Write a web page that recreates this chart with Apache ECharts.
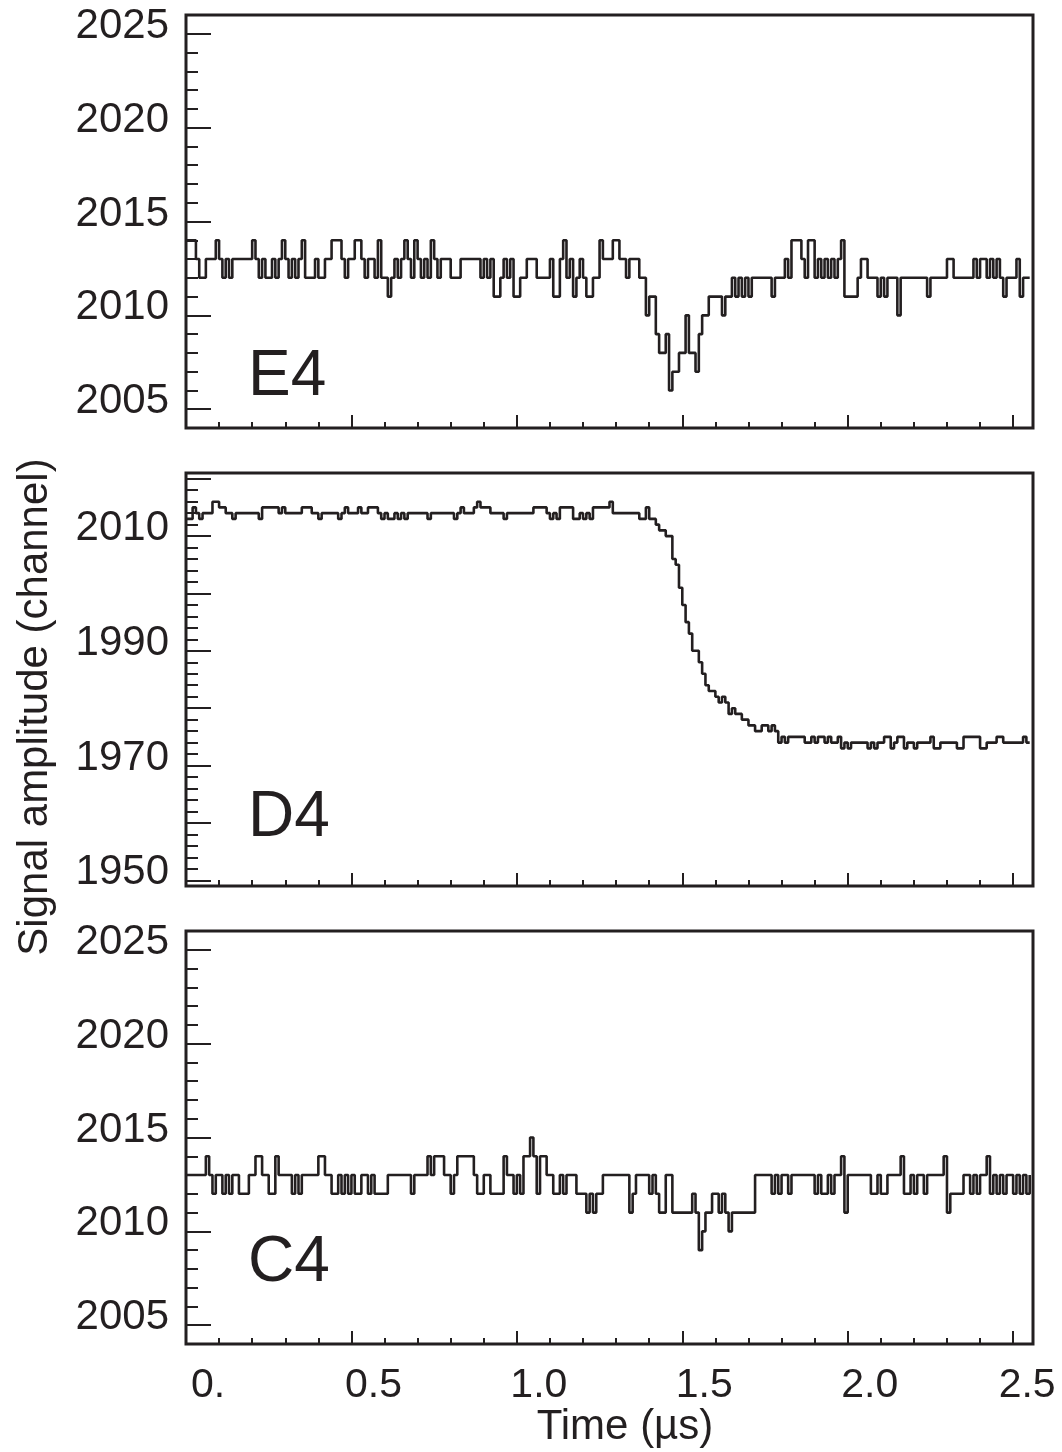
<!DOCTYPE html>
<html>
<head>
<meta charset="utf-8">
<script src="https://cdn.jsdelivr.net/npm/echarts@6/dist/echarts.min.js"></script>
<style>
html,body{margin:0;padding:0;background:#ffffff;}
#chart{width:1062px;height:1452px;}
</style>
</head>
<body>
<div id="chart"></div>
<script>
// ---------- data ----------
const SAMPLE_STEP_US = 0.01;            // 10 ns per ADC sample
const X_MAX_US = 2.56;
const X_TICK_VALUES = [0, 0.5, 1.0, 1.5, 2.0, 2.5];
const X_TICK_LABELS = ['0.', '0.5', '1.0', '1.5', '2.0', '2.5'];

const PANEL_NAMES = ['E4', 'D4', 'C4'];
const Y_LABELS_E4 = [2005, 2010, 2015, 2020, 2025];
const Y_LABELS_D4 = [1950, 1970, 1990, 2010];
const Y_LABELS_C4 = [2005, 2010, 2015, 2020, 2025];

const E4_VALUES = [
2014,2014,2014,2013,2012,2012,2013,2013,2013,2014,2013,2012,2013,2012,2013,2013,
2013,2013,2013,2013,2014,2013,2012,2013,2012,2012,2013,2012,2013,2014,2013,2012,
2013,2012,2013,2014,2012,2012,2012,2013,2012,2012,2013,2013,2014,2014,2014,2013,
2012,2013,2013,2014,2014,2013,2012,2013,2013,2012,2014,2012,2012,2011,2012,2013,
2012,2013,2014,2013,2012,2014,2013,2012,2013,2012,2014,2013,2012,2013,2013,2013,
2012,2012,2012,2013,2013,2013,2013,2013,2013,2012,2013,2012,2013,2011,2011,2012,
2013,2012,2013,2011,2011,2012,2012,2013,2013,2013,2012,2012,2012,2012,2013,2011,
2011,2013,2014,2012,2013,2011,2012,2013,2012,2011,2011,2012,2012,2014,2013,2013,
2013,2014,2014,2013,2013,2012,2013,2013,2013,2012,2012,2010,2011,2011,2009,2008,
2008,2009,2006,2007,2007,2008,2008,2010,2008,2008,2007,2009,2010,2010,2011,2011,
2011,2011,2010,2011,2011,2012,2011,2012,2011,2012,2011,2012,2012,2012,2012,2012,
2012,2011,2012,2012,2012,2013,2012,2014,2014,2014,2013,2012,2014,2014,2012,2013,
2012,2013,2012,2013,2012,2013,2014,2011,2011,2011,2011,2012,2013,2013,2012,2012,
2012,2011,2012,2011,2012,2012,2012,2010,2012,2012,2012,2012,2012,2012,2012,2012,
2011,2012,2012,2012,2012,2012,2013,2013,2012,2012,2012,2012,2012,2012,2013,2012,
2013,2013,2012,2013,2012,2013,2012,2011,2012,2012,2012,2013,2011,2012,2012,2012
];

const D4_VALUES = [
2013,2013,2015,2014,2013,2014,2014,2014,2016,2016,2015,2015,2014,2014,2013,2014,
2014,2014,2014,2014,2014,2014,2013,2015,2015,2015,2015,2015,2014,2015,2014,2014,
2014,2014,2014,2015,2015,2015,2014,2014,2013,2014,2014,2014,2014,2014,2013,2014,
2015,2014,2014,2014,2015,2014,2014,2015,2015,2015,2014,2013,2014,2013,2013,2014,
2013,2014,2013,2014,2014,2014,2014,2014,2014,2013,2014,2014,2014,2014,2014,2014,
2014,2013,2014,2015,2014,2014,2014,2015,2016,2015,2015,2015,2014,2014,2014,2014,
2013,2014,2014,2014,2014,2014,2014,2014,2014,2015,2015,2015,2015,2014,2013,2014,
2013,2015,2015,2015,2015,2013,2013,2014,2013,2014,2013,2015,2015,2015,2015,2015,
2016,2014,2014,2014,2014,2014,2014,2014,2014,2013,2013,2015,2013,2013,2012,2011,
2011,2010,2010,2006,2005,2001,1998,1995,1993,1990,1990,1988,1986,1984,1983,1983,
1982,1981,1982,1981,1979,1980,1979,1979,1978,1978,1977,1977,1976,1976,1977,1977,
1976,1977,1976,1974,1975,1974,1975,1975,1975,1975,1975,1974,1974,1975,1974,1975,
1975,1974,1975,1974,1974,1975,1973,1974,1973,1974,1974,1974,1974,1974,1973,1974,
1973,1974,1974,1975,1975,1973,1974,1975,1975,1973,1974,1974,1973,1974,1974,1974,
1974,1975,1973,1973,1974,1974,1974,1974,1974,1973,1973,1975,1975,1975,1975,1975,
1973,1973,1974,1974,1974,1975,1975,1974,1974,1974,1974,1974,1974,1975,1974,1974
];

const C4_VALUES = [
2013,2013,2013,2013,2013,2013,2014,2013,2012,2013,2013,2012,2013,2012,2013,2013,
2012,2012,2012,2013,2013,2014,2014,2013,2013,2012,2012,2014,2013,2013,2013,2013,
2012,2013,2012,2013,2013,2013,2013,2013,2014,2014,2013,2013,2012,2012,2013,2012,
2013,2012,2013,2012,2012,2013,2013,2012,2013,2012,2012,2012,2012,2013,2013,2013,
2013,2013,2013,2013,2012,2013,2013,2013,2013,2014,2013,2014,2014,2014,2013,2013,
2012,2013,2014,2014,2014,2014,2014,2013,2012,2012,2013,2013,2012,2012,2012,2012,
2014,2013,2013,2012,2013,2012,2014,2014,2015,2014,2012,2014,2014,2013,2013,2012,
2012,2013,2012,2013,2013,2013,2012,2012,2012,2011,2012,2011,2012,2012,2013,2013,
2013,2013,2013,2013,2013,2013,2011,2012,2013,2013,2013,2013,2012,2013,2012,2011,
2011,2013,2013,2011,2011,2011,2011,2011,2011,2012,2011,2009,2010,2011,2011,2012,
2012,2011,2012,2011,2010,2011,2011,2011,2011,2011,2011,2011,2013,2013,2013,2013,
2013,2012,2013,2012,2013,2013,2012,2013,2013,2013,2013,2013,2013,2013,2012,2013,
2012,2012,2013,2012,2013,2013,2014,2011,2013,2013,2013,2013,2013,2013,2013,2012,
2012,2013,2012,2012,2013,2013,2013,2013,2014,2012,2012,2013,2012,2013,2013,2012,
2013,2013,2013,2013,2013,2014,2011,2012,2012,2012,2012,2013,2013,2012,2013,2012,
2013,2013,2014,2012,2013,2012,2013,2012,2013,2013,2012,2013,2012,2013,2012,2013
];

// ---------- layout / style ----------
const INK = '#231f20';
const FONT = '"Liberation Sans", Arial, Helvetica, sans-serif';

const panels = [
  {name: PANEL_NAMES[0], values: E4_VALUES, labels: Y_LABELS_E4, min: 2004, max: 2026, step: 5, top: 15,  nameY: 377},
  {name: PANEL_NAMES[1], values: D4_VALUES, labels: Y_LABELS_D4, min: 1949, max: 2021, step: 10, top: 473, nameY: 818},
  {name: PANEL_NAMES[2], values: C4_VALUES, labels: Y_LABELS_C4, min: 2004, max: 2026, step: 5, top: 931, nameY: 1263}
];

const GRID_LEFT = 186, GRID_WIDTH = 847, GRID_HEIGHT = 413;

function xLabel(v) {
  const idx = X_TICK_VALUES.findIndex(t => Math.abs(t - v) < 1e-6);
  if (idx < 0) return '';
  return idx === X_TICK_VALUES.length - 1 ? '{b|' + X_TICK_LABELS[idx] + '}' : '{a|' + X_TICK_LABELS[idx] + '}';
}

function yLabelFormatter(labels) {
  return v => {
    const r = Math.round(v);
    if (Math.abs(v - r) > 1e-6 || labels.indexOf(r) < 0) return '';
    return '{y|' + r + '}';
  };
}

const option = {
  animation: false,
  backgroundColor: '#ffffff',
  grid: panels.map(p => ({
    left: GRID_LEFT, top: p.top, width: GRID_WIDTH, height: GRID_HEIGHT,
    show: true, borderColor: INK, borderWidth: 3, backgroundColor: 'transparent',
    containLabel: false
  })),
  xAxis: panels.map((p, k) => ({
    type: 'value', gridIndex: k, min: 0, max: X_MAX_US, interval: 0.5,
    axisLine: {show: false},
    axisTick: {show: true, inside: true, length: 13, lineStyle: {color: INK, width: 2}},
    minorTick: {show: true, splitNumber: 5, length: 6, lineStyle: {color: INK, width: 2}},
    splitLine: {show: false}, minorSplitLine: {show: false},
    axisLabel: {
      show: k === panels.length - 1, margin: 21, color: INK,
      showMaxLabel: false,
      formatter: xLabel,
      rich: {
        a: {fontSize: 41, fontFamily: FONT, color: INK, padding: [0, 0, 0, 44], lineHeight: 41},
        b: {fontSize: 41, fontFamily: FONT, color: INK, padding: [0, 0, 0, 28], lineHeight: 41}
      }
    }
  })),
  yAxis: panels.map((p, k) => ({
    type: 'value', gridIndex: k, min: p.min, max: p.max,
    splitNumber: Math.round((p.max - p.min) / p.step),
    minInterval: p.step, maxInterval: p.step,
    axisLine: {show: false},
    axisTick: {show: true, inside: true, length: 25, lineStyle: {color: INK, width: 2}},
    minorTick: {show: true, splitNumber: 5, length: 12, lineStyle: {color: INK, width: 2}},
    splitLine: {show: false}, minorSplitLine: {show: false},
    axisLabel: {
      show: true, margin: 17, color: INK,
      formatter: yLabelFormatter(p.labels),
      rich: {
        y: {fontSize: 42, fontFamily: FONT, color: INK, lineHeight: 42, padding: [0, 0, 15, 0]}
      }
    }
  })),
  series: panels.map((p, k) => ({
    type: 'line', xAxisIndex: k, yAxisIndex: k,
    data: p.values.map((v, i) => [i * SAMPLE_STEP_US, v]),
    step: 'end', symbol: 'none', showSymbol: false, clip: true,
    lineStyle: {color: INK, width: 2.6},
    silent: true
  })),
  graphic: panels.map(p => ({
    type: 'text', x: 248, y: p.nameY,
    style: {text: p.name, fontSize: 64, fontFamily: FONT, fill: INK, align: 'left', verticalAlign: 'middle'}
  })).concat([
    {type: 'text', x: 625, y: 1427,
     style: {text: 'Time (\u00b5s)', fontSize: 42, fontFamily: FONT, fill: INK, align: 'center', verticalAlign: 'middle'}},
    {type: 'text', x: 35, y: 707, rotation: Math.PI / 2,
     style: {text: 'Signal amplitude (channel)', fontSize: 42, fontFamily: FONT, fill: INK, align: 'center', verticalAlign: 'middle'}}
  ])
};

const chart = echarts.init(document.getElementById('chart'), null, {renderer: 'canvas'});
chart.setOption(option);
</script>
</body>
</html>
